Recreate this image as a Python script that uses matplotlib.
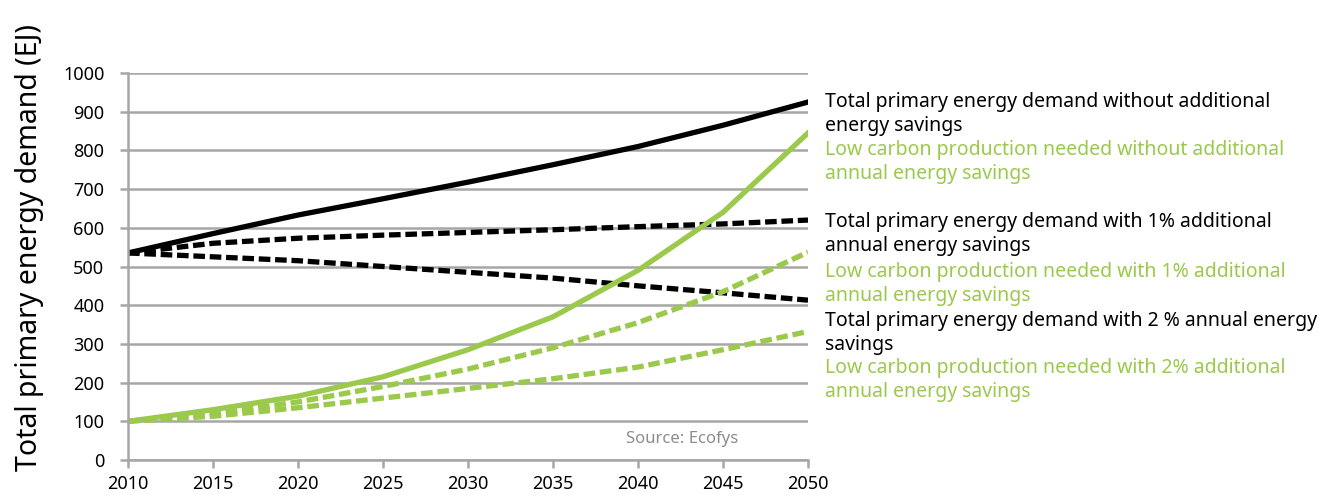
import matplotlib.pyplot as plt

# Datos (EJ)
years = [2010, 2015, 2020, 2025, 2030, 2035, 2040, 2045, 2050]
total_no_savings = [535, 585, 633, 675, 718, 763, 810, 865, 925]
total_1pct = [535, 560, 573, 581, 588, 595, 603, 610, 620]
total_2pct = [535, 525, 515, 500, 485, 470, 450, 432, 413]
low_no_savings = [100, 130, 165, 215, 285, 370, 490, 640, 845]
low_1pct = [100, 120, 150, 190, 235, 290, 355, 435, 537]
low_2pct = [100, 113, 135, 160, 185, 210, 240, 285, 332]

labels = [
    ("Total primary energy demand without additional\nenergy savings", 'black', 114),
    ("Low carbon production needed without additional\nannual energy savings", 'green', 162),
    ("Total primary energy demand with 1% additional\nannual energy savings", 'black', 234),
    ("Low carbon production needed with 1% additional\nannual energy savings", 'green', 284),
    ("Total primary energy demand with 2 % annual energy\nsavings", 'black', 333),
    ("Low carbon production needed with 2% additional\nannual energy savings", 'green', 380),
]

GREEN = '#9BC94B'
GREY = '#A6A6A6'
plt.rcParams['font.family'] = ['Noto Sans', 'DejaVu Sans']

fig = plt.figure(figsize=(13.35, 4.95), dpi=100)
ax = fig.add_axes([128 / 1335, 35 / 495, 680 / 1335, 387 / 495])

dash = (0, (2.2, 0.9))
ax.plot(years, total_no_savings, color='black', lw=3.8)
ax.plot(years, total_1pct, color='black', lw=3.8, linestyle=dash)
ax.plot(years, total_2pct, color='black', lw=3.8, linestyle=dash)
ax.plot(years, low_no_savings, color=GREEN, lw=3.8)
ax.plot(years, low_1pct, color=GREEN, lw=3.8, linestyle=dash)
ax.plot(years, low_2pct, color=GREEN, lw=3.8, linestyle=dash)

ax.set_xlim(2010, 2050)
ax.set_ylim(0, 1000)
ax.set_xticks(range(2010, 2051, 5))
ax.set_yticks(range(0, 1001, 100))
ax.grid(True, axis='y', color=GREY, lw=1.8)
ax.set_axisbelow(True)
for side in ['top', 'right']:
    ax.spines[side].set_visible(False)
for side in ['left', 'bottom']:
    ax.spines[side].set_color(GREY)
    ax.spines[side].set_linewidth(1.8)
ax.tick_params(axis='both', colors=GREY, width=1.8, length=6, labelsize=13,
               labelcolor='black')
ax.tick_params(axis='y', pad=11)
ax.tick_params(axis='x', pad=5)

ax.text(2042.6, 55, 'Source: Ecofys', color='#8C8C8C', fontsize=12,
        ha='center', va='center')

fig.text(30 / 1335, 0.5, 'Total primary energy demand (EJ)', rotation=90,
         fontsize=20.5, ha='center', va='center')

for txt, col, ypx in labels:
    fig.text(825 / 1335, 1 - ypx / 495, txt, color=GREEN if col == 'green' else 'black',
             fontsize=14, ha='left', va='center', linespacing=1.25)

fig.savefig('out.png', dpi=100)
